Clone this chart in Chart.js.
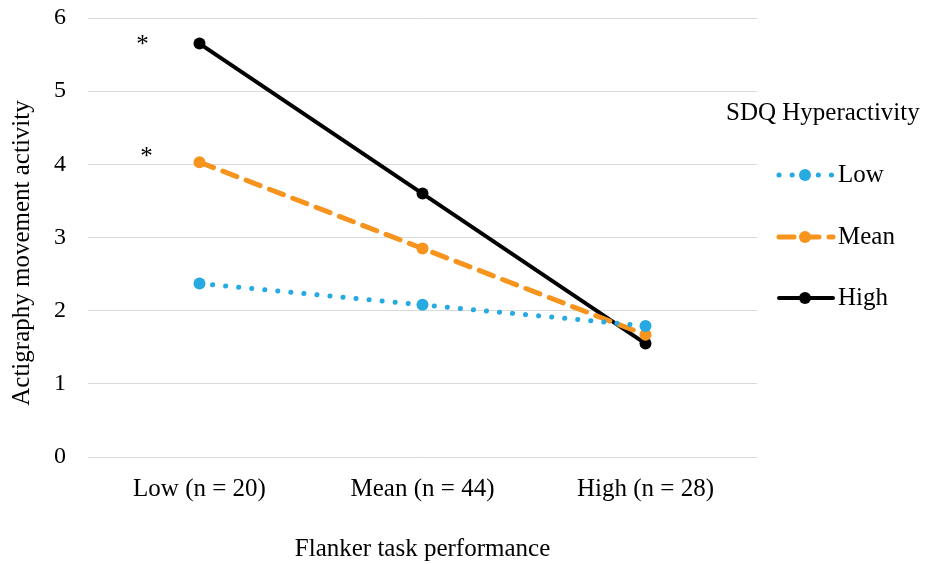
<!DOCTYPE html>
<html>
<head>
<meta charset="utf-8">
<script src="https://cdn.jsdelivr.net/npm/chart.js@4/dist/chart.umd.min.js"></script>
<style>
  html, body { margin: 0; padding: 0; background: #fff; }
  #wrap { width: 928px; height: 564px; }
</style>
</head>
<body>
<div id="wrap"><canvas id="chart" width="928" height="564"></canvas></div>
<script>
// data
const categories = ["Low (n = 20)", "Mean (n = 44)", "High (n = 28)"];
const seriesNames = ["Low", "Mean", "High"];
const lowValues = [2.37, 2.08, 1.79];
const meanValues = [4.03, 2.85, 1.67];
const highValues = [5.65, 3.6, 1.55];
const yTicks = [0, 1, 2, 3, 4, 5, 6];
const starValues = [5.68, 4.15];

const FONT = "'Liberation Serif', 'Times New Roman', serif";
const BLUE = "#27A9E1";
const ORANGE = "#F7941D";
const BLACK = "#000000";

const lineStyles = [
    { color: BLUE, width: 5, dash: [0.1, 13] },
    { color: ORANGE, width: 5, dash: [15, 10] },
    { color: BLACK, width: 4, dash: [] }
];

const makeSet = (name, values, st) => ({
    label: name,
    data: values,
    borderColor: st.color,
    backgroundColor: st.color,
    borderWidth: st.width,
    borderDash: st.dash,
    borderCapStyle: "round",
    pointRadius: 6,
    pointHoverRadius: 6,
    pointBorderWidth: 0,
    pointBackgroundColor: st.color,
    tension: 0
});

// legend, y title and stars drawn by hand
const sideLegend = {
    id: "sideLegend",
    afterDraw(chart) {
        const ctx = chart.ctx;
        ctx.save();
        ctx.fillStyle = "#000";
        ctx.font = "25px " + FONT;
        ctx.textBaseline = "middle";
        ctx.textAlign = "left";
        ctx.fillText("SDQ Hyperactivity", 726, 113);
        const rows = [175, 237, 298];
        chart.data.datasets.forEach((ds, i) => {
            const y = rows[i];
            ctx.save();
            ctx.strokeStyle = ds.borderColor;
            ctx.lineWidth = ds.borderWidth;
            ctx.lineCap = "round";
            ctx.setLineDash(ds.borderDash);
            ctx.beginPath();
            ctx.moveTo(779, y);
            ctx.lineTo(833, y);
            ctx.stroke();
            ctx.setLineDash([]);
            ctx.fillStyle = ds.borderColor;
            ctx.beginPath();
            ctx.arc(805, y, 6, 0, Math.PI * 2);
            ctx.fill();
            ctx.restore();
            ctx.fillText(ds.label, 838, y);
        });
        // y axis title
        ctx.save();
        ctx.translate(22, 253);
        ctx.rotate(-Math.PI / 2);
        ctx.textAlign = "center";
        ctx.fillText("Actigraphy movement activity", 0, 0);
        ctx.restore();
        // significance marks next to the first category
        const xs = chart.scales.x, ys = chart.scales.y;
        ctx.textAlign = "center";
        starValues.forEach((v, i) => {
            ctx.fillText("*", xs.getPixelForValue(0) - 57 + i * 4, ys.getPixelForValue(v) + 4);
        });
        ctx.restore();
    }
};

new Chart(document.getElementById("chart"), {
    type: "line",
    data: {
        labels: categories,
        datasets: [
            makeSet(seriesNames[0], lowValues, lineStyles[0]),
            makeSet(seriesNames[1], meanValues, lineStyles[1]),
            makeSet(seriesNames[2], highValues, lineStyles[2])
        ]
    },
    options: {
        responsive: false,
        animation: false,
        layout: { padding: { top: 18, right: 171, bottom: 0, left: 0 } },
        plugins: {
            legend: { display: false },
            tooltip: { enabled: false }
        },
        scales: {
            x: {
                offset: true,
                grid: { display: false, drawTicks: false },
                border: { display: false },
                ticks: { color: "#000", font: { family: FONT, size: 25 }, padding: 17 },
                title: {
                    display: true,
                    text: "Flanker task performance",
                    color: "#000",
                    font: { family: FONT, size: 25 },
                    padding: { top: 0, bottom: 0 }
                },
                afterFit(scale) {
                    scale.height = 107;
                    scale.paddingLeft = 0;
                    scale.paddingRight = 0;
                }
            },
            y: {
                min: 0,
                max: 6,
                afterBuildTicks(scale) { scale.ticks = yTicks.map(v => ({ value: v })); },
                grid: { color: "#d9d9d9", lineWidth: 1, drawTicks: false },
                border: { display: false },
                ticks: { color: "#000", font: { family: FONT, size: 24 }, padding: 22 },
                afterFit(scale) {
                    scale.width = 88;
                    scale.paddingTop = 0;
                    scale.paddingBottom = 0;
                }
            }
        }
    },
    plugins: [sideLegend]
});
</script>
</body>
</html>
